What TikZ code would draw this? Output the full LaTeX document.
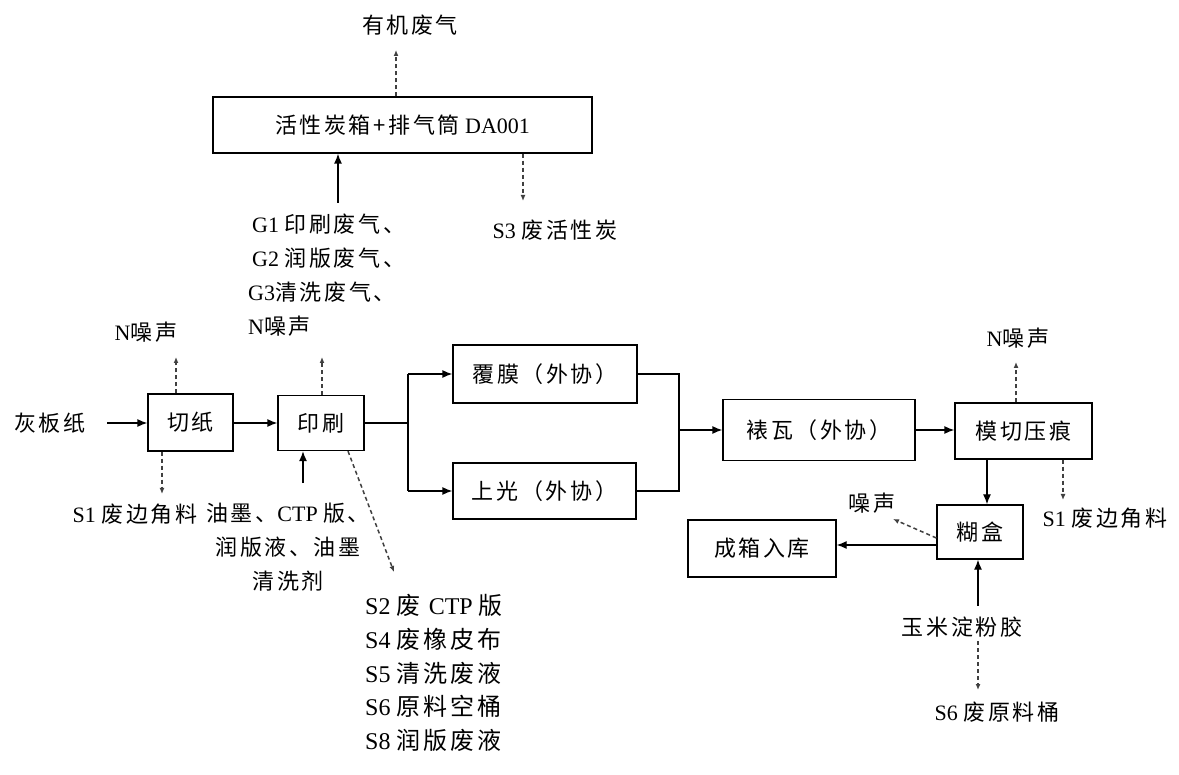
\documentclass[tikz,border=0pt]{standalone}
\usepackage{fontspec}
\setmainfont[LetterSpace=12]{Noto Sans CJK SC}
\newfontfamily\lat{Liberation Serif}
\usetikzlibrary{arrows.meta}
\tikzset{
  proc/.style={draw=black, line width=1.3pt, minimum width=#1, inner sep=0pt},
  txt/.style={inner sep=0pt, font=\fontsize{22}{34}\selectfont},
  flow/.style={line width=1.3pt, -{Latex[length=10pt,width=8pt]}},
  plain/.style={line width=1.3pt},
  emit/.style={line width=1.5pt, draw=black!75, dash pattern=on 4pt off 3pt, -{Latex[length=6pt,width=5pt]}},
}
\begin{document}
\begin{tikzpicture}[x=1pt,y=-1pt]
\useasboundingbox (0,0) rectangle (1179,775);
\fill[white] (0,0) rectangle (1179,775);
% boxes
\node[proc=85pt, minimum height=57pt, txt] (cut) at (190.5,422.5) {切纸};
\node[proc=86pt, minimum height=55pt, txt] (print) at (321,423) {印刷};
\node[proc=184pt, minimum height=58pt, txt] (film) at (545,374) {覆膜（外协）};
\node[proc=183pt, minimum height=56pt, txt] (gloss) at (544.5,491) {上光（外协）};
\node[proc=192pt, minimum height=61pt, txt] (mount) at (819,430) {裱瓦（外协）};
\node[proc=137pt, minimum height=56pt, txt] (die) at (1023.5,431) {模切压痕};
\node[proc=86pt, minimum height=54pt, txt] (glue) at (980,532) {糊盒};
\node[proc=148pt, minimum height=57pt, txt] (store) at (762,548.5) {成箱入库};
\node[proc=379pt, minimum height=56pt, txt] (ac) at (402.5,125) {活性炭箱+排气筒{\lat{} DA001}};
% texts
\node[txt] (raw) at (50,423) {灰板纸};
\node[txt] (n1) at (146,332) {{\lat N}噪声};
\node[txt] (s1a) at (135,514) {{\lat S1 }废边角料};
\node[txt, align=center] (ink) at (288,547.5) {油墨、{\lat CTP }版、\\润版液、油墨\\清洗剂};
\node[txt, align=left, anchor=north west] (gas) at (248,214) {\hspace{4pt}{\lat G1 }印刷废气、\\\hspace{4pt}{\lat G2 }润版废气、\\{\lat G3}清洗废气、\\{\lat N}噪声};
\node[txt] (voc) at (410,25) {有机废气};
\node[txt] (s3) at (555,230) {{\lat S3 }废活性炭};
\node[inner sep=0pt, align=left, anchor=north west, font=\fontsize{24}{33.8}\selectfont\addfontfeatures{LetterSpace=12}] (list) at (365,594)
  {{\lat S2 }废 {\lat CTP }版\\{\lat S4 }废橡皮布\\{\lat S5 }清洗废液\\{\lat S6 }原料空桶\\{\lat S8 }润版废液};
\node[txt] (n3) at (1018,338) {{\lat N}噪声};
\node[txt] (s1b) at (1105,518) {{\lat S1 }废边角料};
\node[txt] (noise) at (872,503) {噪声};
\node[txt] (corn) at (962,627) {玉米淀粉胶};
\node[txt] (s6) at (997,712) {{\lat S6 }废原料桶};
% coordinates
\coordinate (rawend) at (107,423);
\coordinate (n1end) at (176,357);
\coordinate (s1aend) at (162,494);
\coordinate (n2end) at (322,357);
\coordinate (diagend) at (394,572);
\coordinate (br) at (408,423);
\coordinate (mg) at (679,430);
\coordinate (n3end) at (1016,362);
\coordinate (s1bend) at (1063,500);
\coordinate (noiseend) at (893,519);
\coordinate (vocend) at (396,50);
\coordinate (s3end) at (523,201);
% main flow
\draw[flow] (rawend) -- (rawend -| cut.west);
\draw[flow] (cut.east |- print.west) -- (print.west);
\draw[plain] (print.east) -- (br);
\draw[plain] (br |- film.west) -- (br |- gloss.west);
\draw[flow] (br |- film.west) -- (film.west);
\draw[flow] (br |- gloss.west) -- (gloss.west);
\draw[plain] (film.east) -| (mg |- gloss.east) -- (gloss.east);
\draw[flow] (mg) -- (mg -| mount.west);
\draw[flow] (mount.east |- 0,430) -- (die.west |- 0,430);
\draw[flow] (die.south -| 987,0) -- (glue.north -| 987,0);
\draw[flow] (glue.west |- 0,545) -- (store.east |- 0,545);
\draw[flow] (corn.north -| 978,0) ++(0,-11) -- (glue.south -| 978,0);
\draw[flow] (ink.north -| 303,0) ++(0,-20) -- (print.south -| 303,0);
\draw[flow] (gas.north -| 338,0) ++(0,-11) -- (ac.south -| 338,0);
% emissions
\draw[emit] (cut.north -| n1end) -- (n1end);
\draw[emit] (cut.south -| s1aend) -- (s1aend);
\draw[emit] (print.north -| n2end) -- (n2end);
\draw[emit] (print.south -| 348,0) -- (diagend);
\draw[emit] (ac.north -| vocend) -- (vocend);
\draw[emit] (ac.south -| s3end) -- (s3end);
\draw[emit] (die.north -| n3end) -- (n3end);
\draw[emit] (die.south -| s1bend) -- (s1bend);
\draw[emit] (glue.west |- 0,538) -- (noiseend);
\draw[emit] (corn.south -| 978,0) ++(0,4) -- (978,690);
\end{tikzpicture}
\end{document}
